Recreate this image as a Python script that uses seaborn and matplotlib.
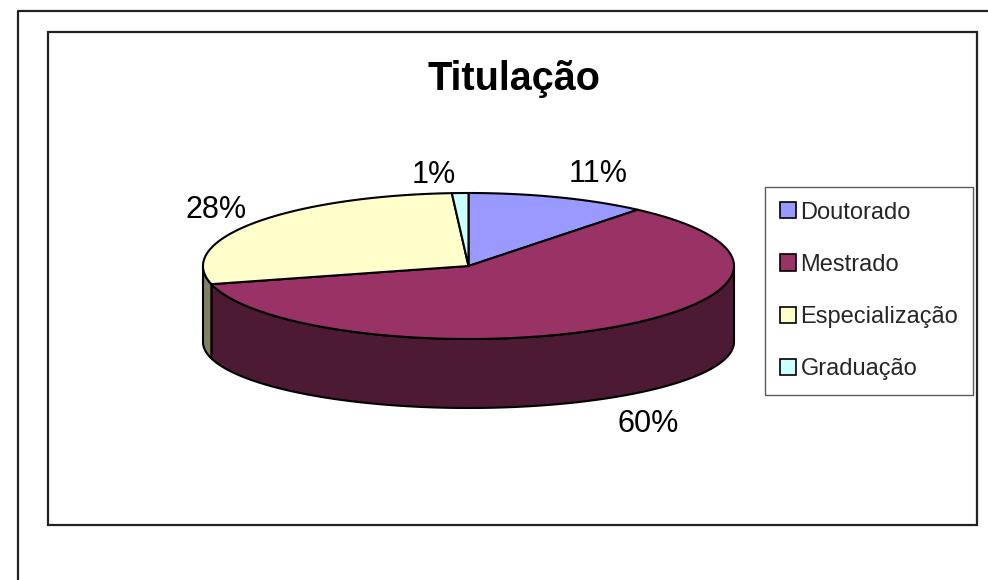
import numpy as np
import matplotlib
matplotlib.use("Agg")
import matplotlib.pyplot as plt
from matplotlib.patches import Polygon, Rectangle, Patch
import seaborn as sns

# dados do gráfico
categorias = ["Doutorado", "Mestrado", "Especialização", "Graduação"]
percentuais = [11, 60, 28, 1]
cores_topo = ["#9999FF", "#993366", "#FFFFCC", "#CCFFFF"]
cores_lado = ["#4C4C80", "#4C1A33", "#808066", "#668080"]
titulo = "Titulação"

sns.set_theme(style="white")
plt.rcParams["font.family"] = ["Liberation Sans", "DejaVu Sans"]

W, H = 988, 580
fig = plt.figure(figsize=(W / 100, H / 100), dpi=100)
ax = fig.add_axes([0, 0, 1, 1])
ax.set_xlim(0, W)
ax.set_ylim(H, 0)
ax.axis("off")

# molduras (estilo Excel)
ax.plot([18, 18, W], [H, 11, 11], color="#222222", lw=1.6, solid_capstyle="butt")
ax.add_patch(Rectangle((48, 32), 929, 493, fill=False, ec="#222222", lw=1.6))

# geometria da pizza 3D
cx, cy = 468.5, 266
a, b = 265.5, 73
prof, b_base = 76, 66

def pontos(t1, t2, yc, bb, n=200):
    t = np.radians(np.linspace(t1, t2, n))
    return np.column_stack([cx + a * np.cos(t), yc - bb * np.sin(t)])

fr = np.array(percentuais) / sum(percentuais)
cum = np.concatenate([[0], np.cumsum(fr)])
ini = 90 - 360 * cum[:-1]
fim = 90 - 360 * cum[1:]

# laterais visíveis (metade da frente)
for i in range(len(categorias)):
    t1, t2 = min(ini[i], 0), max(fim[i], -180)
    if t1 <= t2:
        continue
    topo = pontos(t1, t2, cy, b)
    base = pontos(t2, t1, cy + prof, b_base)
    ax.add_patch(Polygon(np.vstack([topo, base]), closed=True,
                         fc=cores_lado[i], ec="black", lw=1.5, joinstyle="round"))

# fatias do topo
for i in range(len(categorias)):
    arco = pontos(ini[i], fim[i], cy, b)
    ax.add_patch(Polygon(np.vstack([[cx, cy], arco]), closed=True,
                         fc=cores_topo[i], ec="black", lw=1.5, joinstyle="round"))

# rótulos de porcentagem
ajuste = [(18, 0), (3, -5), (15, 0), (-24, 6)]
for i, p in enumerate(percentuais):
    m = np.radians((ini[i] + fim[i]) / 2)
    lx = cx + 330 * np.cos(m) + ajuste[i][0]
    ly = cy - 100 * np.sin(m) + (prof if np.sin(m) < 0 else 0) + ajuste[i][1]
    ax.text(lx, ly + 10.5, f"{p}%", ha="center", va="baseline", fontsize=22, color="black")

ax.text(513.5, 90, titulo, ha="center", va="baseline", fontsize=28.5,
        fontweight="bold", color="black")

# legenda
handles = [Patch(fc=c, ec="black", lw=1.2) for c in cores_topo]
leg = fig.legend(handles, categorias, loc="upper left",
                 bbox_to_anchor=(765 / W, 1 - 187 / H), borderaxespad=0,
                 fontsize=17, frameon=True, fancybox=False, shadow=False,
                 handlelength=0.68, handleheight=0.68, handletextpad=0.2,
                 borderpad=0.62, labelspacing=1.28)
leg.get_frame().set_edgecolor("#333333")
leg.get_frame().set_linewidth(1.0)

fig.savefig("out.png", dpi=100, facecolor="white")
